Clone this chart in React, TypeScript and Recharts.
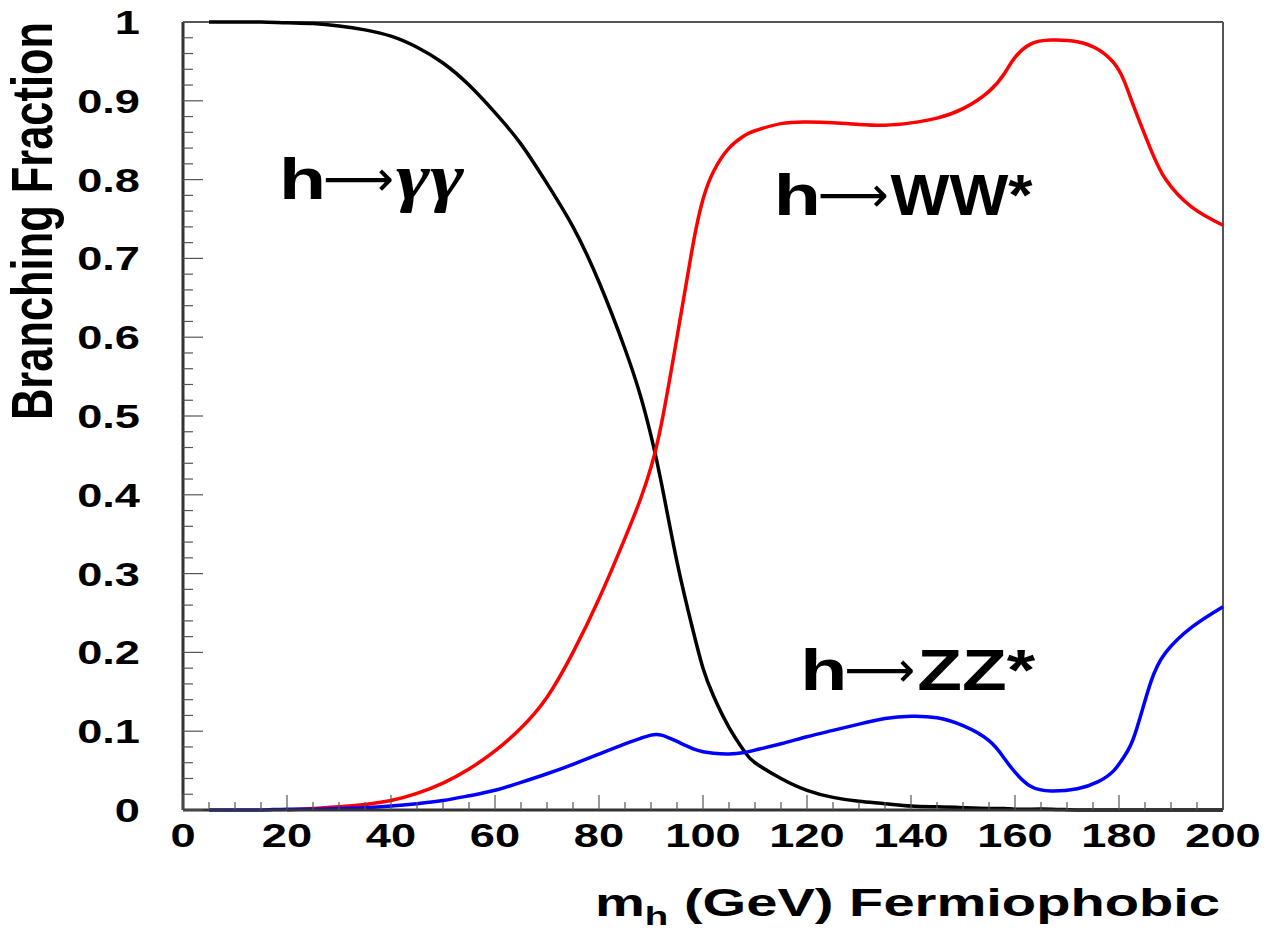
import React from "react";
import {
  Label,
  Line,
  LineChart,
  ReferenceDot,
  ReferenceLine,
  XAxis,
  YAxis,
} from "recharts";

// Higgs mass grid (GeV)
const massGrid = [
  5, 10, 15, 20, 25, 30, 35, 40, 45, 50, 55, 60, 65, 70, 75, 80, 85, 88, 90, 92,
  95, 98, 100, 102, 105, 108, 110, 115, 120, 125, 130, 135, 140, 145, 150, 155,
  158, 160, 163, 167, 172, 176, 179, 181, 183, 186, 189, 194, 200,
];

// h -> gamma gamma
const gammaGamma = [
  1, 1, 1, 0.999, 0.998, 0.995, 0.99, 0.982, 0.968, 0.948, 0.92, 0.885, 0.845,
  0.795, 0.74, 0.67, 0.585, 0.525, 0.475, 0.415, 0.315, 0.23, 0.18, 0.145, 0.105,
  0.074, 0.06, 0.04, 0.025, 0.016, 0.011, 0.008, 0.005, 0.004, 0.003, 0.002,
  0.002, 0.001, 0.001, 0.001, 0, 0, 0, 0, 0, 0, 0, 0, 0,
];

// h -> WW*
const wwStar = [
  null, null, null, 0, 0.002, 0.004, 0.007, 0.012, 0.021, 0.034, 0.052, 0.075,
  0.104, 0.143, 0.2, 0.268, 0.345, 0.395, 0.435, 0.49, 0.6, 0.715, 0.775, 0.81,
  0.84, 0.856, 0.862, 0.871, 0.873, 0.872, 0.87, 0.869, 0.872, 0.878, 0.89,
  0.912, 0.935, 0.955, 0.972, 0.977, 0.975, 0.965, 0.948, 0.925, 0.89, 0.84, 0.8,
  0.765, 0.742,
];

// h -> ZZ*
const zzStar = [
  0, 0, 0, 0.001, 0.001, 0.002, 0.003, 0.005, 0.008, 0.012, 0.018, 0.025, 0.035,
  0.046, 0.058, 0.071, 0.084, 0.091, 0.095, 0.095, 0.087, 0.078, 0.074, 0.072,
  0.071, 0.073, 0.076, 0.084, 0.093, 0.101, 0.109, 0.116, 0.119, 0.117, 0.107,
  0.088, 0.065, 0.048, 0.03, 0.024, 0.027, 0.036, 0.05, 0.068, 0.095, 0.16, 0.2,
  0.232, 0.258,
];

const xMajorTicks = [0, 20, 40, 60, 80, 100, 120, 140, 160, 180, 200];
const xTickLabels = ["0", "20", "40", "60", "80", "100", "120", "140", "160", "180", "200"];
const yMajorTicks = [0, 0.1, 0.2, 0.3, 0.4, 0.5, 0.6, 0.7, 0.8, 0.9, 1];
const yTickLabels = ["0", "0.1", "0.2", "0.3", "0.4", "0.5", "0.6", "0.7", "0.8", "0.9", "1"];

// minor ticks: every 5 GeV on x, every 0.02 on y
const xTicks = Array.from({ length: 41 }, (_, i) => i * 5);
const yTicks = Array.from({ length: 51 }, (_, i) => Math.round(i * 2) / 100);

const rows = massGrid.map((m, i) => ({
  m,
  gg: gammaGamma[i],
  ww: wwStar[i],
  zz: zzStar[i],
}));

const FONT = "'Liberation Sans', Arial, Helvetica, sans-serif";
const STRETCH = 1.33; // the original figure is horizontally stretched
const AXIS_COLOR = "#333";

const XTick = ({ x, y, payload }: any) => {
  const v = payload.value;
  const idx = xMajorTicks.indexOf(v);
  const major = idx >= 0;
  return (
    <g>
      <line x1={x} y1={y} x2={x} y2={y - (major ? 15 : 8)} stroke="#555" strokeWidth={1.2} />
      {major && (
        <text
          transform={`translate(${x},${y + 37}) scale(${STRETCH},1)`}
          textAnchor="middle"
          fontFamily={FONT}
          fontWeight="bold"
          fontSize={34}
          fill="#000"
        >
          {xTickLabels[idx]}
        </text>
      )}
    </g>
  );
};

const YTick = ({ x, y, payload }: any) => {
  const v = payload.value;
  const idx = yMajorTicks.findIndex((t) => Math.abs(t - v) < 1e-6);
  const major = idx >= 0;
  return (
    <g>
      <line x1={x} y1={y} x2={x + (major ? 20 : 10)} y2={y} stroke="#555" strokeWidth={1.2} />
      {major && (
        <text
          transform={`translate(${x - 43},${y + 12}) scale(${STRETCH},1)`}
          textAnchor="end"
          fontFamily={FONT}
          fontWeight="bold"
          fontSize={34}
          fill="#000"
        >
          {yTickLabels[idx]}
        </text>
      )}
    </g>
  );
};

const XTitle = (props: any) => {
  const vb = props.viewBox || {};
  const right = vb.x + vb.width;
  return (
    <text
      x={right - 628}
      y={vb.y + 106}
      fontFamily={FONT}
      fontWeight="bold"
      fontSize={38}
      fill="#000"
      textLength={625}
      lengthAdjust="spacingAndGlyphs"
    >
      m
      <tspan fontSize={26} dy={9}>h</tspan>
      <tspan dy={-9}> (GeV) Fermiophobic</tspan>
    </text>
  );
};

const YTitle = () => (
  <text
    transform={`translate(52,221) scale(${STRETCH},1) rotate(-90)`}
    textAnchor="middle"
    fontFamily={FONT}
    fontWeight="bold"
    fontSize={43}
    fill="#000"
    textLength={398}
    lengthAdjust="spacingAndGlyphs"
  >
    Branching Fraction
  </text>
);

// decay label: "h", a thin arrow, then the final state, each placed as its own text
const makeAnnotation =
  (particles: string, serif: boolean, partWidth: number) => (props: any) => {
    const vb = props.viewBox || {};
    const x0 = vb.x;
    const y0 = vb.y;
    return (
      <g>
        <text
          transform={`translate(${x0 + 2},${y0}) scale(${STRETCH},1)`}
          fontFamily={FONT}
          fontWeight="bold"
          fontSize={58}
          fill="#000"
        >
          h
        </text>
        <text
          x={x0 + 46}
          y={y0 - 3}
          fontFamily="'DejaVu Sans', sans-serif"
          fontSize={50}
          fill="#000"
          textLength={71}
          lengthAdjust="spacingAndGlyphs"
        >
          ⟶
        </text>
        <text
          x={x0 + 119}
          y={y0}
          fontFamily={serif ? "'Liberation Serif', 'DejaVu Serif', serif" : FONT}
          fontWeight="bold"
          fontStyle={serif ? "italic" : "normal"}
          fontSize={serif ? 66 : 58}
          fill="#000"
          textLength={partWidth}
          lengthAdjust="spacingAndGlyphs"
        >
          {particles}
        </text>
      </g>
    );
  };

const GammaLabel = makeAnnotation("γγ", true, 68);
const WWLabel = makeAnnotation("WW*", false, 142);
const ZZLabel = makeAnnotation("ZZ*", false, 118);

export default function App() {
  return (
    <div style={{ position: "absolute", left: 0, top: 0, width: 1278, height: 933, background: "#fff" }}>
      <LineChart
        width={1278}
        height={933}
        data={rows}
        margin={{ top: 22, right: 55, left: 0, bottom: 73 }}
      >
        <XAxis
          type="number"
          dataKey="m"
          domain={[0, 200]}
          ticks={xTicks}
          interval={0}
          tickSize={0}
          tickMargin={0}
          tick={<XTick />}
          height={50}
          axisLine={{ stroke: AXIS_COLOR, strokeWidth: 3 }}
        >
          <Label content={<XTitle />} />
        </XAxis>
        <YAxis
          type="number"
          domain={[0, 1]}
          ticks={yTicks}
          interval={0}
          tickSize={0}
          tickMargin={0}
          tick={<YTick />}
          width={183}
          axisLine={{ stroke: AXIS_COLOR, strokeWidth: 3 }}
        >
          <Label content={<YTitle />} />
        </YAxis>
        <ReferenceLine y={1} stroke="#555" strokeWidth={2} />
        <ReferenceLine x={200} stroke="#555" strokeWidth={2} />

        <Line
          type="natural"
          dataKey="gg"
          stroke="#000000"
          strokeWidth={3.5}
          dot={false}
          isAnimationActive={false}
        />
        <Line
          type="natural"
          dataKey="ww"
          stroke="#ff0000"
          strokeWidth={3.5}
          dot={false}
          connectNulls={false}
          isAnimationActive={false}
        />
        <Line
          type="natural"
          dataKey="zz"
          stroke="#0000ff"
          strokeWidth={3.5}
          dot={false}
          isAnimationActive={false}
        />

        <ReferenceDot x={18.1} y={0.776} r={0} stroke="none" fill="none" ifOverflow="visible" label={<GammaLabel />} />
        <ReferenceDot x={113.2} y={0.755} r={0} stroke="none" fill="none" ifOverflow="visible" label={<WWLabel />} />
        <ReferenceDot x={118.3} y={0.152} r={0} stroke="none" fill="none" ifOverflow="visible" label={<ZZLabel />} />
      </LineChart>
    </div>
  );
}
